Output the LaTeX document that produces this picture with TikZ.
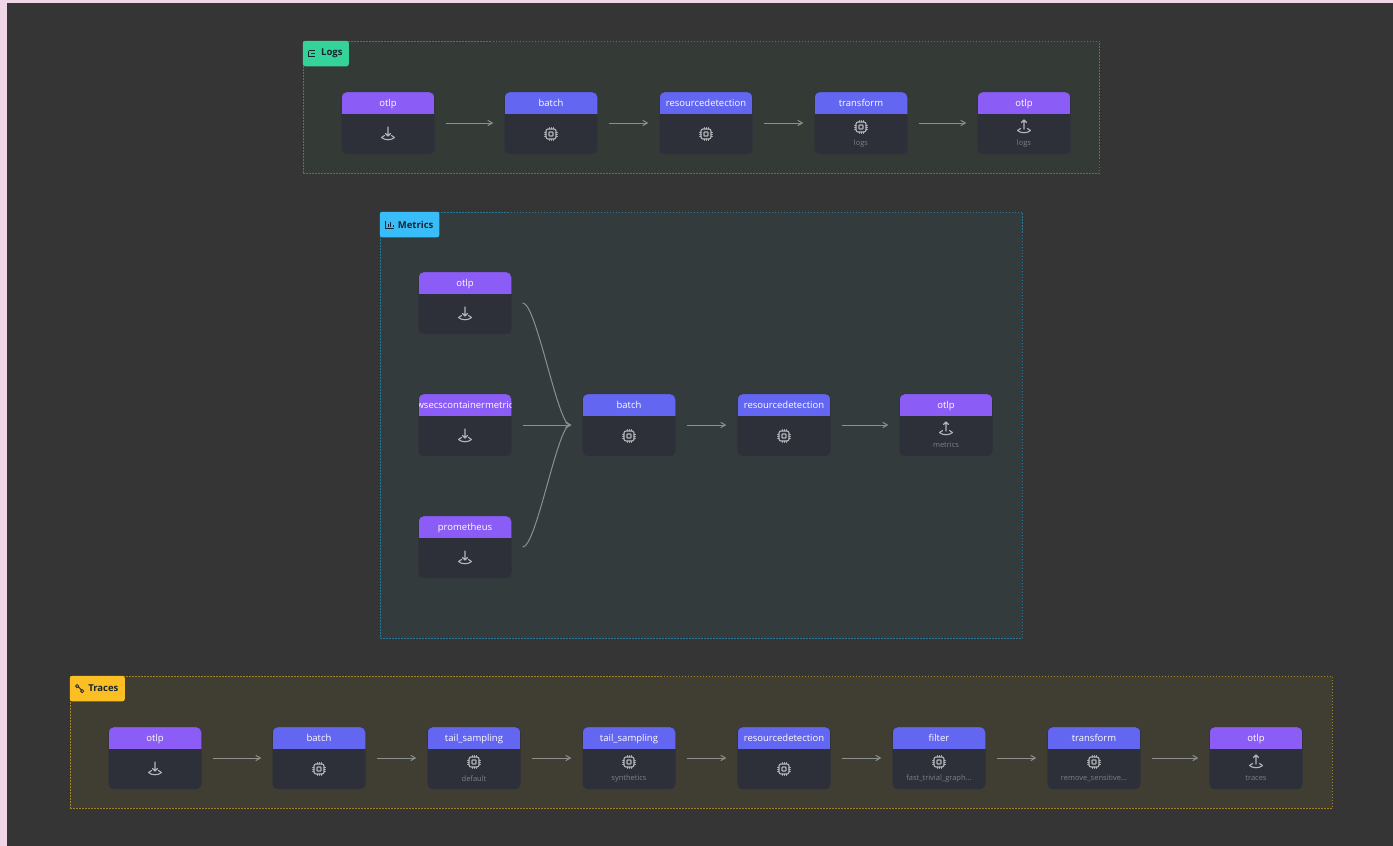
\documentclass[tikz,border=0pt]{standalone}
\usepackage{fontspec}
\setmainfont{Open Sans}
\usepackage{tikz}
\usetikzlibrary{arrows}

\definecolor{pagepink}{HTML}{F0D7E8}
\definecolor{canvasgrey}{HTML}{353535}
\definecolor{cardfill}{HTML}{2D2F39}
\definecolor{cardline}{HTML}{33353D}
\definecolor{headpurple}{HTML}{8B5CF6}
\definecolor{headblue}{HTML}{6366F1}
\definecolor{subgrey}{HTML}{7E8188}
\definecolor{icongrey}{HTML}{B4B6BA}
\definecolor{flowgrey}{HTML}{8C908C}
\definecolor{logsfill}{HTML}{343A36}
\definecolor{logsline}{HTML}{2B8862}
\definecolor{logstag}{HTML}{34D399}
\definecolor{metricsfill}{HTML}{343B3D}
\definecolor{metricsline}{HTML}{28779C}
\definecolor{metricstag}{HTML}{38BDF8}
\definecolor{tracesfill}{HTML}{403E33}
\definecolor{tracesline}{HTML}{A08228}
\definecolor{tracestag}{HTML}{FBBF24}
\definecolor{tagtext}{HTML}{1B2430}

\tikzset{
  group/.style={draw=#1line, fill=#1fill, line width=.7pt, dash pattern=on 1.5pt off 1.5pt},
  tag/.style={fill=#1tag, text=tagtext, rounded corners=2.5pt, anchor=north west, minimum height=25.5pt,
    inner xsep=6pt, inner ysep=0pt, font=\fontsize{9.5}{10}\selectfont\bfseries, execute at begin node={\hspace*{12pt}}},
  title/.style={draw=none, fill=none, text=white, inner sep=0pt, minimum width=0pt, minimum height=0pt,
    text height=7pt, text depth=2pt, rounded corners=0pt, font=\fontsize{9.5}{10}\selectfont},
  card/.style 2 args={draw=cardline, fill=cardfill, rounded corners=5pt, minimum width=93pt, minimum height=62pt, inner sep=0pt,
    path picture={
      \fill[#1, sharp corners] ([yshift=-22pt]path picture bounding box.north west) rectangle (path picture bounding box.north east);
      \node[title] at ([yshift=-12pt]path picture bounding box.north) {#2};
    }},
  source/.style={card={headpurple}{#1}},
  step/.style={card={headblue}{#1}},
  subtext/.style={anchor=center, yshift=11pt, text=subgrey, font=\fontsize{7.5}{8}\selectfont},
  flow/.style={->, >=angle 60, draw=flowgrey, line width=1pt, shorten >=11pt, shorten <=11pt},
  icon/.style={draw=icongrey, line width=1.1pt, line cap=round, line join=round},
  chip/.pic={
    \draw[icon, rounded corners=2pt] (-5,-5) rectangle (5,5);
    \draw[icon, rounded corners=.5pt] (-2,-2) rectangle (2,2);
    \foreach \k in {-2.2,0,2.2} {
      \draw[icon, line width=.6pt] (\k,-6.5) -- (\k,-5) (\k,5) -- (\k,6.5) (-6.5,\k) -- (-5,\k) (5,\k) -- (6.5,\k);
    }
  },
  tray/.pic={
    \draw[icon] (-6.5,3.5) -- (-3.5,1.5) (6.5,3.5) -- (3.5,1.5);
    \draw[icon] (-6.5,3.5) .. controls (-3,6.5) and (3,6.5) .. (6.5,3.5);
  },
  download/.pic={
    \pic {tray};
    \draw[icon] (0,-7) -- (0,2) (-2.5,-.5) -- (0,2) -- (2.5,-.5);
  },
  upload/.pic={
    \pic {tray};
    \draw[icon] (0,2) -- (0,-7) (-2.5,-4.5) -- (0,-7) -- (2.5,-4.5);
  },
  listicon/.pic={
    \draw[draw=tagtext, line width=.7pt] (-3,-3) -- (3,-3) (-1,0) -- (3,0) (-3,3) -- (3,3) (-3,-3) -- (-3,3);
  },
  barsicon/.pic={
    \draw[draw=tagtext, line width=.8pt] (-4,-4) -- (-4,4) -- (4,4) (-1.5,2.5) -- (-1.5,-1) (1,2.5) -- (1,-3) (3.5,2.5) -- (3.5,.5);
  },
  routeicon/.pic={
    \draw[draw=tagtext, line width=.8pt] (-2.5,-2.5) circle (1.6pt) (2.5,2.5) circle (1.6pt) (-1,-1.5) -- (1.5,1);
  },
}

\begin{document}
\begin{tikzpicture}[x=1pt,y=-1pt,node distance=155pt]
\useasboundingbox (0,0) rectangle (1393,846);
\fill[pagepink] (0,0) rectangle (1393,846);
\fill[canvasgrey] (7,3) rectangle (1393,846);

% Logs
\node[group=logs, minimum width=796pt, minimum height=132pt] (logs) at (701,107) {};
\node[tag=logs, minimum width=46pt] (logs_tag) at (logs.north west) {Logs};
\pic at ([xshift=9pt]logs_tag.west) {listicon};
\node[source=otlp]              (l_otlp)  at (388,123) {};
\node[step=batch]               (l_batch) [right of=l_otlp, xshift=8pt] {};
\node[step=resourcedetection]   (l_res)   [right of=l_batch] {};
\node[step=transform, label={[subtext]south:logs}] (l_trans) [right of=l_res] {};
\node[source=otlp, label={[subtext]south:logs}]    (l_out)   [right of=l_trans, xshift=8pt] {};
\pic at ([yshift=-11pt]l_otlp.center)  {download};
\pic at ([yshift=-11pt]l_batch.center) {chip};
\pic at ([yshift=-11pt]l_res.center)   {chip};
\pic at ([yshift=-4pt]l_trans.center)  {chip};
\pic at ([yshift=-4pt]l_out.center)    {upload};
\path[flow]
          (l_otlp)  edge (l_batch)
          (l_batch) edge (l_res)
          (l_res)   edge (l_trans)
          (l_trans) edge (l_out);

% Metrics
\node[group=metrics, minimum width=642pt, minimum height=426pt] (metrics) at (701,425) {};
\node[tag=metrics, minimum width=58pt] (metrics_tag) at (metrics.north west) {Metrics};
\pic at ([xshift=10pt]metrics_tag.west) {barsicon};
\node[source=wsecscontainermetric] (m_aws) at (465,425) {};
\node[source=otlp]        (m_otlp)  [above of=m_aws, node distance=122pt] {};
\node[source=prometheus]  (m_prom)  [below of=m_aws, node distance=122pt] {};
\node[step=batch]         (m_batch) [right of=m_aws, xshift=9pt] {};
\node[step=resourcedetection] (m_res) [right of=m_batch] {};
\node[source=otlp, label={[subtext]south:metrics}] (m_out) [right of=m_res, xshift=7pt] {};
\pic at ([yshift=-11pt]m_otlp.center)  {download};
\pic at ([yshift=-11pt]m_aws.center)   {download};
\pic at ([yshift=-11pt]m_prom.center)  {download};
\pic at ([yshift=-11pt]m_batch.center) {chip};
\pic at ([yshift=-11pt]m_res.center)   {chip};
\pic at ([yshift=-4pt]m_out.center)    {upload};
\draw[flow] (m_otlp.east) to [out=0,in=180,looseness=.45] (m_batch.west);
\draw[flow] (m_prom.east) to [out=0,in=180,looseness=.45] (m_batch.west);
\path[flow]
          (m_aws)   edge (m_batch)
          (m_batch) edge (m_res)
          (m_res)   edge (m_out);

% Traces
\node[group=traces, minimum width=1262pt, minimum height=132pt] (traces) at (701,742) {};
\node[tag=traces, minimum width=55pt] (traces_tag) at (traces.north west) {Traces};
\pic at ([xshift=10pt]traces_tag.west) {routeicon};
\node[source=otlp]  (t_otlp)  at (155,758) {};
\node[step=batch]   (t_batch) [right of=t_otlp, xshift=9pt] {};
\node[step=tail\_sampling, label={[subtext]south:default}]    (t_tail1) [right of=t_batch] {};
\node[step=tail\_sampling, label={[subtext]south:synthetics}] (t_tail2) [right of=t_tail1] {};
\node[step=resourcedetection] (t_res) [right of=t_tail2] {};
\node[step=filter, label={[subtext]south:fast\_trivial\_graph...}]    (t_filter) [right of=t_res] {};
\node[step=transform, label={[subtext]south:remove\_sensitive...}]    (t_trans)  [right of=t_filter] {};
\node[source=otlp, label={[subtext]south:traces}] (t_out) [right of=t_trans, xshift=7pt] {};
\pic at ([yshift=-11pt]t_otlp.center)  {download};
\pic at ([yshift=-11pt]t_batch.center) {chip};
\pic at ([yshift=-4pt]t_tail1.center)  {chip};
\pic at ([yshift=-4pt]t_tail2.center)  {chip};
\pic at ([yshift=-11pt]t_res.center)   {chip};
\pic at ([yshift=-4pt]t_filter.center) {chip};
\pic at ([yshift=-4pt]t_trans.center)  {chip};
\pic at ([yshift=-4pt]t_out.center)    {upload};
\path[flow]
          (t_otlp)   edge (t_batch)
          (t_batch)  edge (t_tail1)
          (t_tail1)  edge (t_tail2)
          (t_tail2)  edge (t_res)
          (t_res)    edge (t_filter)
          (t_filter) edge (t_trans)
          (t_trans)  edge (t_out);
\end{tikzpicture}
\end{document}
